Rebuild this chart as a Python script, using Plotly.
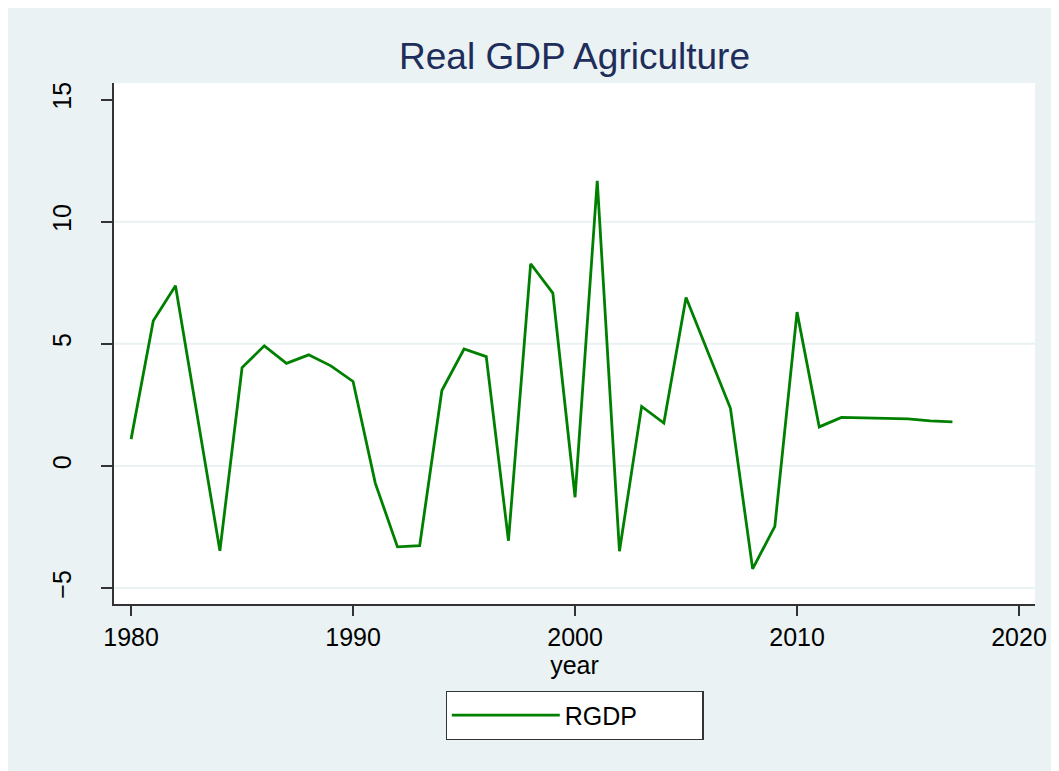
import plotly.graph_objects as go

years = list(range(1980, 2018))
rgdp = [1.10, 5.95, 7.38, 1.9, -3.47, 4.03, 4.92, 4.20, 4.55, 4.10,
        3.46, -0.70, -3.31, -3.26, 3.09, 4.79, 4.48, -3.06, 8.28, 7.08,
        -1.28, 11.67, -3.49, 2.44, 1.76, 6.90, 4.64, 2.36, -4.21, -2.47,
        6.30, 1.60, 1.99, 1.97, 1.95, 1.93, 1.85, 1.81]

x_ticks = [1980, 1990, 2000, 2010, 2020]
y_ticks = [-5, 0, 5, 10, 15]
grid_vals = [-5, 0, 5, 10]

# page is offset by the 8px body margin
W, H = 1051, 763
L, R, T, B = 105.5, 21.5, 75, 166.5
BG = "#EAF2F3"
FONT = "Arial, Liberation Sans, sans-serif"
pw, ph = W - L - R, H - T - B

fig = go.Figure()
fig.add_trace(go.Scatter(x=years, y=rgdp, mode="lines", name="RGDP",
                         line=dict(color="#008000", width=2.8)))

for v in grid_vals:
    fig.add_hline(y=v, line=dict(color=BG, width=2), layer="below")

fig.update_layout(
    width=W, height=H,
    margin=dict(l=L, r=R, t=T, b=B, pad=0),
    paper_bgcolor=BG, plot_bgcolor="white",
    font=dict(family=FONT, size=25, color="black"),
    title=dict(text="Real GDP Agriculture", x=0.5, xref="paper",
               y=1 - 48 / H, yref="container", xanchor="center", yanchor="middle",
               font=dict(family=FONT, size=37, color="#1E2D5A")),
    showlegend=True,
    legend=dict(x=0.5, xanchor="center", y=-(683.7 - (H - B)) / ph, yanchor="top",
                bgcolor="white", bordercolor="#333333", borderwidth=1.3,
                font=dict(family=FONT, size=25, color="black"),
                itemwidth=108, orientation="h", entrywidth=132),
    xaxis=dict(range=[1979.23, 2020.72], tickvals=x_ticks, showgrid=False,
               zeroline=False, showline=True, linecolor="#333333", linewidth=1.5,
               ticks="outside", ticklen=10, tickwidth=1.5, tickcolor="#333333",
               tickfont=dict(size=25), title=dict(text="year", standoff=0,
               font=dict(size=25))),
    yaxis=dict(range=[-5.65, 15.68], tickvals=y_ticks, showgrid=False,
               zeroline=False, showline=True, linecolor="#333333", linewidth=1.5,
               ticks="outside", ticklen=11, tickwidth=1.5, tickcolor="#333333",
               tickangle=-90, tickfont=dict(size=25), ticklabelstandoff=20),
)

fig.write_html("out.html")
